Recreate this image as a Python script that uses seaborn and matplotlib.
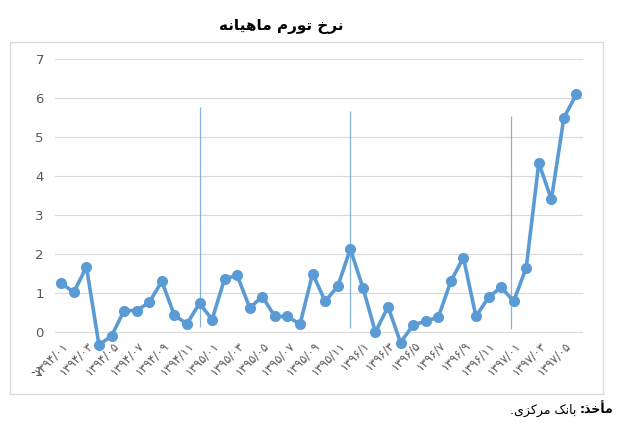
import numpy as np
import pandas as pd
import seaborn as sns
import matplotlib.pyplot as plt
from matplotlib.patches import Rectangle

# داده ها: نرخ تورم ماهیانه ۱۳۹۴/۰۱ تا ۱۳۹۷/۰۶
months = list(range(42))
inflation = [1.25, 1.02, 1.67, -0.33, -0.10, 0.55, 0.55, 0.76, 1.30, 0.43, 0.21, 0.74,
             0.32, 1.37, 1.45, 0.62, 0.91, 0.40, 0.40, 0.20, 1.50, 0.79, 1.17, 2.13,
             1.14, 0.00, 0.65, -0.27, 0.18, 0.28, 0.38, 1.30, 1.91, 0.40, 0.89, 1.15,
             0.79, 1.65, 4.34, 3.40, 5.50, 6.10]

tick_pos = list(range(0, 42, 2))
tick_labels = ['۱۳۹۴/۰۱', '۱۳۹۴/۰۳', '۱۳۹۴/۰۵', '۱۳۹۴/۰۷', '۱۳۹۴/۰۹', '۱۳۹۴/۱۱',
               '۱۳۹۵/۰۱', '۱۳۹۵/۰۳', '۱۳۹۵/۰۵', '۱۳۹۵/۰۷', '۱۳۹۵/۰۹', '۱۳۹۵/۱۱',
               '۱۳۹۶/۱', '۱۳۹۶/۳', '۱۳۹۶/۵', '۱۳۹۶/۷', '۱۳۹۶/۹', '۱۳۹۶/۱۱',
               '۱۳۹۷/۰۱', '۱۳۹۷/۰۳', '۱۳۹۷/۰۵']

# خطوط عمودی جدا کننده سال ها
sep_x = [11, 23, 35.8]
sep_bottom = [0.14, 0.10, 0.08]
sep_top = [5.78, 5.67, 5.54]

# متن ها (شکل های نمایشی عربی به ترتیب دیداری)
title_txt = ('\uFEEA\uFEE7\uFE8E\uFEF4\uFEEB\uFE8E\uFEE3' + ' ' +
             '\uFEE1\uFEAD\uFEEE\uFE97' + ' ' + '\uFEA5\uFEAE\uFEE7')
src_bold = ':' + '\uFEAC\uFEA7\uFE84\uFEE3'
src_rest = '.' + '\uFBFC\uFEB0\uFB90\uFEAE\uFEE3' + ' ' + '\uFB8F\uFEE7\uFE8E\uFE91' + ' '

df = pd.DataFrame({'month': months, 'inflation': inflation})

sns.set_style('white')
plt.rcParams['font.family'] = ['DejaVu Sans']

blue = '#5B9BD5'
fig = plt.figure(figsize=(6.18, 4.26), dpi=100)
ax = fig.add_axes([0.089, 0.129, 0.854, 0.7324])

sns.lineplot(data=df, x='month', y='inflation', ax=ax, color=blue, linewidth=2.6,
             marker='o', markersize=8, markeredgecolor=blue, markeredgewidth=0)

ax.vlines(sep_x, sep_bottom, sep_top, color=blue, linewidth=0.9, alpha=0.75)

ax.set_xlim(-0.5, 41.5)
ax.set_ylim(-1, 7)
ax.set_yticks(range(-1, 8))
ax.set_yticklabels([str(v) for v in range(-1, 8)], fontsize=9.5, color='#595959')
ax.grid(axis='y', color='#D9D9D9', linewidth=0.8)
ax.grid(axis='x', visible=False)
ax.set_axisbelow(True)

for s in ['top', 'right', 'left']:
    ax.spines[s].set_visible(False)
ax.spines['bottom'].set_position(('data', 0))
ax.spines['bottom'].set_visible(False)

ax.set_xticks(tick_pos)
ax.set_xticklabels(tick_labels, fontsize=8.5, color='#595959', rotation=45,
                   ha='right', va='top', rotation_mode='anchor')
ax.tick_params(axis='both', length=0)
ax.tick_params(axis='x', pad=5)
ax.tick_params(axis='y', pad=8)
ax.set_xlabel('')
ax.set_ylabel('')

# کادر نمودار
fig.patches.append(Rectangle((10 / 618, 1 - 394 / 426), 593 / 618, 352 / 426,
                             transform=fig.transFigure, fill=False,
                             edgecolor='#D9D9D9', linewidth=0.9))

fig.text(0.455, 0.937, title_txt, ha='center', va='center',
         fontsize=11, fontweight='bold', color='black')

# مأخذ
t1 = fig.text(0.993, 0.037, src_bold, ha='right', va='center', fontsize=9,
              fontweight='bold', color='black')
fig.canvas.draw()
bb = t1.get_window_extent()
x_left = fig.transFigure.inverted().transform((bb.x0, bb.y0))[0]
fig.text(x_left, 0.037, src_rest, ha='right', va='center', fontsize=9, color='black')

fig.savefig('out.png', dpi=100)
